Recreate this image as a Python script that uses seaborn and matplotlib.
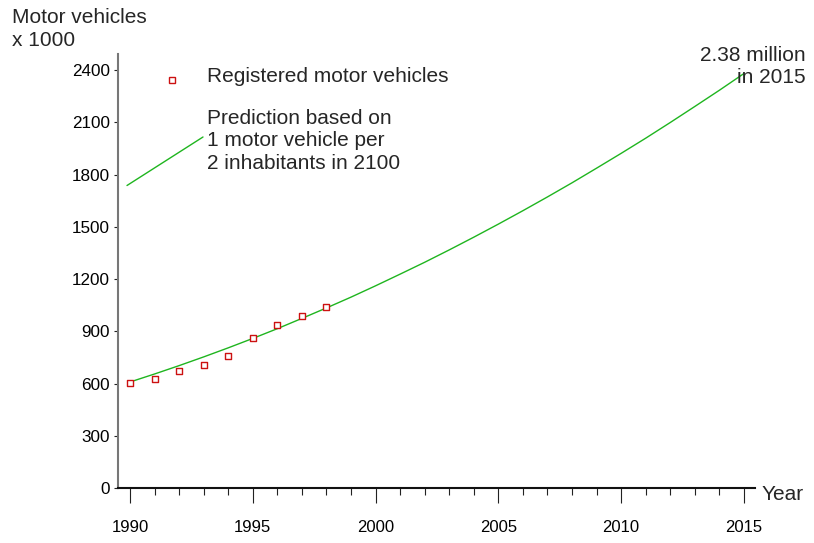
import matplotlib
matplotlib.use("Agg")
import matplotlib.pyplot as plt
from matplotlib.ticker import MultipleLocator
import seaborn as sns
import pandas as pd

# Registered motor vehicles (thousands)
reg_years = [1990, 1991, 1992, 1993, 1994, 1995, 1996, 1997, 1998]
reg_values = [606, 625, 673, 708, 762, 863, 937, 987, 1042]

# Prediction curve (thousands)
pred_years = [1990, 1991, 1992, 1993, 1994, 1995, 1996, 1997, 1998, 1999,
              2000, 2001, 2002, 2003, 2004, 2005, 2006, 2007, 2008, 2009,
              2010, 2011, 2012, 2013, 2014, 2015]
pred_values = [610, 656, 704, 754, 806, 860, 916, 975, 1035, 1097,
               1162, 1229, 1297, 1368, 1441, 1516, 1593, 1672, 1753, 1837,
               1922, 2009, 2099, 2191, 2284, 2380]

y_ticks = [0, 300, 600, 900, 1200, 1500, 1800, 2100, 2400]
x_ticks = [1990, 1995, 2000, 2005, 2010, 2015]

reg_df = pd.DataFrame({"year": reg_years, "vehicles": reg_values})
pred_df = pd.DataFrame({"year": pred_years, "vehicles": pred_values})

sns.set_style("ticks")
plt.rcParams["font.family"] = ["Liberation Sans", "DejaVu Sans"]

GREEN = "#1fb51f"
RED = "#cc1111"
TXT = 15
LS = 1.22

fig = plt.figure(figsize=(8.14, 5.43), dpi=100)
ax = fig.add_axes([118 / 814, (543 - 488.3) / 543, (755 - 118) / 814, (488.3 - 54) / 543])

sns.lineplot(data=pred_df, x="year", y="vehicles", ax=ax, color=GREEN, lw=1.0)
sns.scatterplot(data=reg_df, x="year", y="vehicles", ax=ax, marker="s", s=22,
                facecolor="white", edgecolor=RED, linewidth=1.0, zorder=3)

ax.set_xlim(1989.51, 2015.45)
ax.set_ylim(0, 2492)
ax.set_xticks(x_ticks)
ax.xaxis.set_minor_locator(MultipleLocator(1))
ax.set_yticks(y_ticks)
ax.set_xlabel("")
ax.set_ylabel("")

ax.spines["top"].set_visible(False)
ax.spines["right"].set_visible(False)
ax.spines["left"].set_color("#777777")
ax.spines["left"].set_linewidth(1.5)
ax.spines["bottom"].set_color("#111111")
ax.spines["bottom"].set_linewidth(1.5)

ax.tick_params(axis="x", which="major", direction="out", length=11, width=0.8,
               colors="#222222", labelsize=12, pad=12, labelcolor="black")
ax.tick_params(axis="x", which="minor", direction="out", length=5, width=0.8,
               colors="#222222")
ax.tick_params(axis="y", which="major", direction="out", length=3, width=0.8,
               colors="#222222", labelsize=12.3, pad=3, labelcolor="black")

# Axis titles
fig.text(12 / 814, 1 - 29 / 543, "Motor vehicles\nx 1000", ha="left", va="center",
         fontsize=TXT, linespacing=LS)
fig.text(762 / 814, 1 - 495 / 543, "Year", ha="left", va="center", fontsize=TXT)

# Legend drawn by hand
fig.lines.append(plt.Line2D([172 / 814], [1 - 80 / 543], transform=fig.transFigure,
                            marker="s", ms=4.5, mfc="white", mec=RED, mew=1.0, ls=""))
fig.text(207 / 814, 1 - 77 / 543, "Registered motor vehicles", ha="left", va="center",
         fontsize=TXT)
fig.lines.append(plt.Line2D([127 / 814, 203 / 814], [1 - 185.5 / 543, 1 - 137 / 543],
                            transform=fig.transFigure, color=GREEN, lw=1.0))
fig.text(207 / 814, 1 - 141 / 543,
         "Prediction based on\n1 motor vehicle per\n2 inhabitants in 2100",
         ha="left", va="center", fontsize=TXT, linespacing=LS)

# End-of-curve annotation
fig.text(806 / 814, 1 - 66.5 / 543, "2.38 million\nin 2015", ha="right", va="center",
         fontsize=TXT, linespacing=LS)

fig.savefig("out.png", dpi=100)
